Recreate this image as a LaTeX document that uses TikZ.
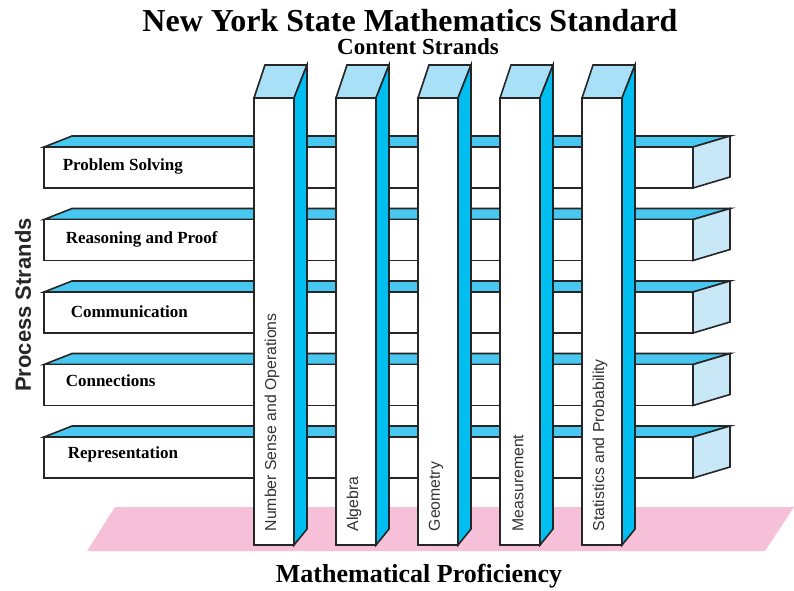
\documentclass[tikz,border=0pt]{standalone}
\usepackage{fontspec}
\setmainfont{Liberation Serif}
\setsansfont{Liberation Sans}
\definecolor{bartop}{HTML}{48C8F0}
\definecolor{barend}{HTML}{C8E8F8}
\definecolor{coltop}{HTML}{A8E0F8}
\definecolor{colside}{HTML}{00BEF0}
\definecolor{pinkbase}{HTML}{F6C0D8}
\definecolor{outline}{HTML}{262626}
\begin{document}
\begin{tikzpicture}[x=1pt, y=-1pt, line width=1.6pt,
  face/.style={draw=outline},
  strand/.style={anchor=base west, inner sep=0pt, font=\fontsize{17}{19}\selectfont\bfseries},
  content/.style={anchor=west, inner sep=0pt, rotate=90, text=black!80, font=\fontsize{15.8}{17}\sffamily}]
  \useasboundingbox (0,0) rectangle (794,590);
  % base
  \fill[pinkbase] (115,507) -- (794,507) -- (765,551) -- (87,551) -- cycle;
  % process bars
  \foreach \y in {147,219.5,292,364.5,437} {
    \filldraw[fill=bartop, face] (44,\y) -- (72,\y-11) -- (730,\y-11) -- (693,\y) -- cycle;
    \filldraw[fill=white, face] (44,\y) rectangle (693,\y+41);
    \filldraw[fill=barend, face] (693,\y) -- (730,\y-11) -- (730,\y+30) -- (693,\y+41) -- cycle;
  }
  % content columns
  \foreach \l in {254,336,418,500,582} {
    \filldraw[fill=coltop, face] (\l,98) -- (\l+11,65) -- (\l+53,65) -- (\l+40,98) -- cycle;
    \filldraw[fill=colside, face] (\l+40,98) -- (\l+53,65) -- (\l+53,529) -- (\l+40,545) -- cycle;
    \filldraw[fill=white, face] (\l,98) rectangle (\l+40,545);
  }
  % titles
  \node[font=\fontsize{32}{34}\selectfont\bfseries, anchor=base, inner sep=1pt] (title) at (410,31) {New York State Mathematics Standard};
  \node[font=\fontsize{23}{25}\selectfont\bfseries, anchor=base, inner sep=1pt] (contentstrands) at (418,54) {Content Strands};
  \node[font=\fontsize{26}{28}\selectfont\bfseries, anchor=base] (proficiency) at (419,582) {Mathematical Proficiency};
  \node[font=\fontsize{22}{24}\sffamily\bfseries, rotate=90, text=black!85] (processstrands) at (23,305) {Process Strands};
  % process labels
  \node[strand] (problem) at (62,170) {Problem Solving};
  \node[strand] (reasoning) at (65,243) {Reasoning and Proof};
  \node[strand] (communication) at (70,317) {Communication};
  \node[strand] (connections) at (65,386) {Connections};
  \node[strand] (representation) at (67,458) {Representation};
  % content labels
  \node[content] (number) at (272,532) {Number Sense and Operations};
  \node[content] (algebra) at (354,532) {Algebra};
  \node[content] (geometry) at (436,532) {Geometry};
  \node[content] (measurement) at (518,532) {Measurement};
  \node[content] (statistics) at (600,532) {Statistics and Probability};
\end{tikzpicture}
\end{document}
